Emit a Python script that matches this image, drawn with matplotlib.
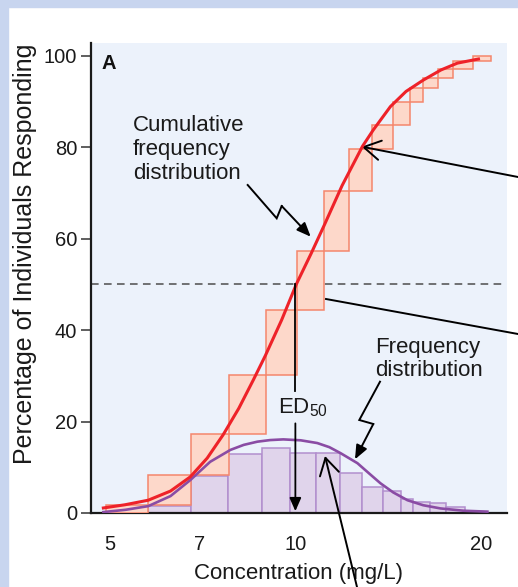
import matplotlib
matplotlib.use('Agg')
import matplotlib.pyplot as plt
from matplotlib.patches import Rectangle
from matplotlib.lines import Line2D
from matplotlib.ticker import FixedLocator, NullLocator

plt.rcParams['font.family'] = ['Liberation Sans', 'DejaVu Sans']
plt.rcParams['mathtext.default'] = 'regular'

# frequency distribution (purple bars): bin edges in mg/L, % responding per bin
freq_edges = [5.78, 6.79, 7.79, 8.84, 9.81, 10.81, 11.83, 12.84, 13.88,
              14.84, 15.52, 16.54, 17.55, 18.84]
freq_pct = [1.6, 8.1, 13.0, 14.3, 13.2, 13.1, 8.8, 5.6, 4.9, 3.0, 2.3, 2.2, 1.4]

# cumulative frequency steps (orange boxes): bin edges and cumulative levels
cum_edges = [4.94, 5.78, 6.79, 7.82, 8.97, 10.07, 11.14, 12.23, 13.32,
             14.41, 15.35, 16.11, 17.04, 18.02, 19.41, 20.69]
cum_pct = [0, 1.7, 8.3, 17.3, 30.2, 44.4, 57.4, 70.5, 79.6, 84.9, 90.0,
           93.0, 95.1, 97.1, 98.8, 100]

# smooth fitted curves
cum_curve_x = [4.89, 5.3, 5.78, 6.28, 6.76, 7.2, 7.64, 8.1, 8.55, 8.94,
               9.5, 10.04, 10.6, 11.14, 11.9, 12.84, 13.37, 14.25, 15.1,
               16.11, 17.2, 18.29, 19.78]
cum_curve_y = [1.1, 1.8, 2.8, 4.8, 7.9, 12.0, 17.1, 22.9, 29.1, 34.4,
               42.2, 50.1, 56.7, 63.0, 71.6, 80.2, 83.8, 88.9, 92.2,
               94.7, 96.9, 98.4, 99.3]
freq_curve_x = [4.89, 5.31, 5.78, 6.28, 6.76, 7.28, 7.85, 8.25, 8.68, 9.1,
                9.56, 10.2, 10.85, 11.35, 11.83, 12.6, 13.15, 13.73, 14.4,
                15.18, 16.1, 17.17, 18.7, 20.45]
freq_curve_y = [0.2, 0.7, 1.5, 3.7, 7.2, 11.2, 13.8, 14.9, 15.6, 15.95,
                16.1, 15.9, 15.3, 14.4, 13.1, 10.9, 8.7, 6.5, 4.5,
                2.8, 1.7, 1.0, 0.5, 0.3]

ed50 = 10.0
x_ticks = [5, 7, 10, 20]
y_ticks = [0, 20, 40, 60, 80, 100]

W, H = 518, 587


def fig_xy(px, py):
    return (px / W, 1 - py / H)


fig = plt.figure(figsize=(W / 100, H / 100), dpi=100)
fig.patch.set_facecolor('white')
frame_col = '#c8d5ef'
fig.add_artist(Rectangle((0, 0), 8 / W, 1, transform=fig.transFigure,
                         color=frame_col, zorder=0))
fig.add_artist(Rectangle((0, 1 - 7 / H), 1, 7 / H, transform=fig.transFigure,
                         color=frame_col, zorder=0))

ax = fig.add_axes([91 / W, 74 / H, 416 / W, 470 / H])
ax.set_facecolor('#ecf2fb')
ax.set_xscale('log')
ax.set_xlim(4.67, 22.0)
ax.set_ylim(0, 102.8)

# dashed 50% line
ax.axhline(50, xmin=0, xmax=0.99, color='#4d4d4d', lw=1.1,
           dashes=(5, 3.5), zorder=1)

# purple frequency bars
for i, h in enumerate(freq_pct):
    ax.add_patch(Rectangle((freq_edges[i], 0), freq_edges[i + 1] - freq_edges[i], h,
                           facecolor='#e0d4eb', edgecolor='#b28fce', lw=1.1, zorder=2))

# orange cumulative boxes
for i in range(len(cum_edges) - 1):
    ax.add_patch(Rectangle((cum_edges[i], cum_pct[i]), cum_edges[i + 1] - cum_edges[i],
                           cum_pct[i + 1] - cum_pct[i],
                           facecolor='#fdd8ca', edgecolor='#f4866c', lw=1.1, zorder=3))

ax.plot(freq_curve_x, freq_curve_y, color='#8a4ca4', lw=1.9, zorder=4,
        solid_joinstyle='round')
ax.plot(cum_curve_x, cum_curve_y, color='#ee2229', lw=2.2, zorder=5,
        solid_joinstyle='round')

# ED50 marker
ax.plot([ed50, ed50], [50, 26.6], color='black', lw=1.3, zorder=6)
ax.annotate('', xy=(ed50, 0.4), xytext=(ed50, 19.6),
            arrowprops=dict(arrowstyle='-|>,head_length=0.5,head_width=0.22',
                            mutation_scale=16, color='black', lw=1.3,
                            shrinkA=0, shrinkB=0), zorder=6)
ax.text(10.28, 21.8, 'ED$_{50}$', ha='center', va='baseline', fontsize=16,
        color='#1a1a1a', zorder=7)

# axes styling
for side in ('top', 'right'):
    ax.spines[side].set_visible(False)
for side in ('left', 'bottom'):
    ax.spines[side].set_linewidth(1.6)
    ax.spines[side].set_color('#1a1a1a')
ax.xaxis.set_major_locator(FixedLocator(x_ticks))
ax.xaxis.set_minor_locator(NullLocator())
ax.set_xticklabels([str(t) for t in x_ticks])
ax.set_yticks(y_ticks)
ax.tick_params(axis='x', length=0, pad=16, labelsize=14.5, labelcolor='#1a1a1a')
ax.tick_params(axis='y', length=7, width=1.1, pad=3, labelsize=14.5,
               labelcolor='#1a1a1a', color='#333333')

ax.set_xlabel('Concentration (mg/L)', fontsize=16, color='#1a1a1a', va='top')
ax.xaxis.set_label_coords(0.5, -0.106)
ax.set_ylabel('Percentage of Individuals Responding', fontsize=18,
              color='#1a1a1a')
ax.yaxis.set_label_coords(-0.13, 0.551)

# panel letter and labels
fig.text(*fig_xy(101, 54), 'A', fontsize=14.5, fontweight='bold',
         ha='left', va='top', color='#111111')
fig.text(*fig_xy(133, 115), 'Cumulative\nfrequency\ndistribution', fontsize=16,
         ha='left', va='top', color='#1a1a1a', linespacing=1.18)
fig.text(*fig_xy(375.5, 336.5), 'Frequency\ndistribution', fontsize=16,
         ha='left', va='top', color='#1a1a1a', linespacing=1.18)

# zigzag pointers
zig1 = [(247.7, 185), (276.7, 218.3), (281.7, 206)]
zig2 = [(380, 381.7), (359.3, 420), (373.3, 424)]
for pts, tip in ((zig1, (310.7, 236.7)), (zig2, (355, 459.3))):
    xs = [fig_xy(*p)[0] for p in pts]
    ys = [fig_xy(*p)[1] for p in pts]
    fig.add_artist(Line2D(xs, ys, transform=fig.transFigure, color='black',
                          lw=1.4, solid_joinstyle='miter'))
    ax.annotate('', xy=fig_xy(*tip), xycoords='figure fraction',
                xytext=fig_xy(*pts[-1]), textcoords='figure fraction',
                arrowprops=dict(arrowstyle='-|>,head_length=0.6,head_width=0.25',
                                mutation_scale=14, color='black', lw=1.4,
                                shrinkA=0, shrinkB=0))

# long leader lines running off to the right / bottom
open_head = dict(arrowstyle='->,head_length=0.6,head_width=0.35',
                 mutation_scale=20, color='black', lw=1.4, shrinkA=0, shrinkB=0)
ax.annotate('', xy=fig_xy(361.7, 146.7), xycoords='figure fraction',
            xytext=fig_xy(518, 177), textcoords='figure fraction',
            arrowprops=open_head, annotation_clip=False)
ax.annotate('', xy=fig_xy(325, 456), xycoords='figure fraction',
            xytext=fig_xy(357, 587), textcoords='figure fraction',
            arrowprops=open_head, annotation_clip=False)
p0, p1 = fig_xy(326, 299), fig_xy(518, 334)
fig.add_artist(Line2D([p0[0], p1[0]], [p0[1], p1[1]], transform=fig.transFigure,
                      color='black', lw=1.4))

fig.savefig('out.png', dpi=100)
